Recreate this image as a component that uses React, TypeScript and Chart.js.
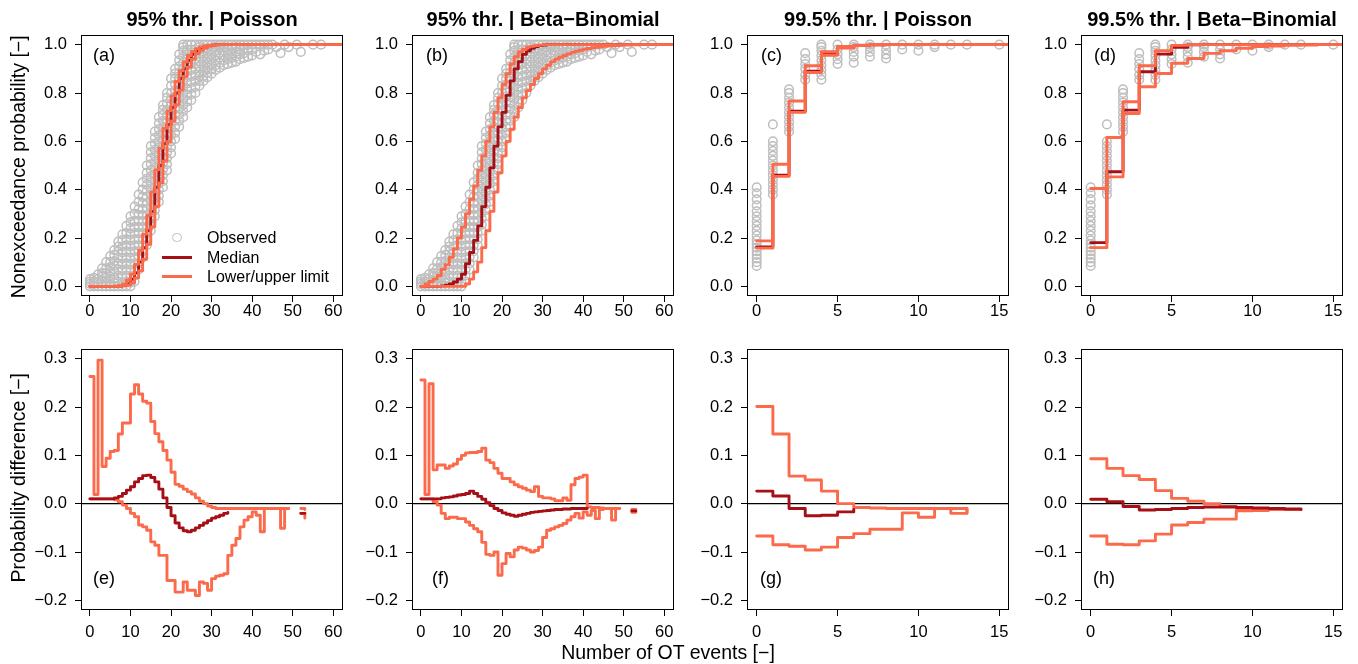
import React, { useEffect, useRef } from "react";
import { Chart, registerables } from "chart.js";

Chart.register(...registerables);

const FONT = "'Liberation Sans', Arial, Helvetica, sans-serif";
const DARK = "#A50F15";
const LIGHT = "#FB6A4A";
const GREY = "#BEBEBE";

// ---------- ticks & labels ----------
const probTicks = [0, 0.2, 0.4, 0.6, 0.8, 1];
const diffTicks = [-0.2, -0.1, 0, 0.1, 0.2, 0.3];
const countTicksWide = [0, 10, 20, 30, 40, 50, 60];
const countTicksNarrow = [0, 5, 10, 15];
const panelTitles = [
  "95% thr. | Poisson",
  "95% thr. | Beta\u2212Binomial",
  "99.5% thr. | Poisson",
  "99.5% thr. | Beta\u2212Binomial",
];
const topLetters = ["(a)", "(b)", "(c)", "(d)"];
const bottomLetters = ["(e)", "(f)", "(g)", "(h)"];
const legendLabels = ["Observed", "Median", "Lower/upper limit"];
const xAxisLabel = "Number of OT events [\u2212]";
const yTopLabel = "Nonexceedance probability [\u2212]";
const yBottomLabel = "Probability difference [\u2212]";

// ---------- observed empirical probabilities (index = number of events) ----------
const obs95: number[][] = [
  [0, 0.01, 0.02, 0.03],
  [0, 0.01, 0.02, 0.035],
  [0, 0.015, 0.03, 0.05],
  [0, 0.02, 0.04, 0.055, 0.075],
  [0, 0.015, 0.035, 0.055, 0.075, 0.1],
  [0, 0.02, 0.04, 0.06, 0.08, 0.1, 0.125],
  [0, 0.015, 0.035, 0.06, 0.085, 0.105, 0.13, 0.15],
  [0, 0.02, 0.045, 0.07, 0.095, 0.12, 0.145, 0.165, 0.185],
  [0, 0.015, 0.04, 0.065, 0.09, 0.115, 0.14, 0.165, 0.19, 0.215],
  [0, 0.02, 0.045, 0.07, 0.095, 0.12, 0.145, 0.17, 0.195, 0.22, 0.25],
  [0, 0.015, 0.04, 0.065, 0.09, 0.115, 0.14, 0.165, 0.19, 0.215, 0.24, 0.265, 0.29],
  [0.02, 0.045, 0.07, 0.095, 0.12, 0.145, 0.17, 0.195, 0.22, 0.245, 0.27, 0.3, 0.33],
  [0.07, 0.095, 0.12, 0.145, 0.17, 0.195, 0.22, 0.245, 0.27, 0.295, 0.32, 0.35, 0.38],
  [0.12, 0.145, 0.17, 0.195, 0.22, 0.245, 0.27, 0.295, 0.32, 0.345, 0.37, 0.4, 0.43],
  [0.17, 0.195, 0.22, 0.245, 0.27, 0.295, 0.32, 0.345, 0.37, 0.395, 0.42, 0.445, 0.47, 0.5],
  [0.23, 0.255, 0.28, 0.305, 0.33, 0.355, 0.38, 0.405, 0.43, 0.455, 0.48, 0.505, 0.53, 0.555, 0.58],
  [0.29, 0.315, 0.34, 0.365, 0.39, 0.415, 0.44, 0.465, 0.49, 0.515, 0.54, 0.565, 0.59, 0.615, 0.64],
  [0.35, 0.375, 0.4, 0.425, 0.45, 0.475, 0.5, 0.525, 0.55, 0.575, 0.6, 0.625, 0.65, 0.675, 0.7],
  [0.41, 0.435, 0.46, 0.485, 0.51, 0.535, 0.56, 0.585, 0.61, 0.635, 0.66, 0.685, 0.71, 0.73, 0.75],
  [0.48, 0.505, 0.53, 0.555, 0.58, 0.605, 0.63, 0.655, 0.68, 0.705, 0.73, 0.755, 0.78, 0.8],
  [0.55, 0.575, 0.6, 0.625, 0.65, 0.675, 0.7, 0.725, 0.75, 0.775, 0.8, 0.83, 0.86],
  [0.61, 0.635, 0.66, 0.685, 0.71, 0.735, 0.76, 0.785, 0.81, 0.835, 0.86, 0.88, 0.9],
  [0.66, 0.685, 0.71, 0.735, 0.76, 0.785, 0.81, 0.835, 0.86, 0.885, 0.91, 0.935, 0.96],
  [0.7, 0.725, 0.75, 0.775, 0.8, 0.825, 0.85, 0.875, 0.9, 0.925, 0.95, 0.975, 0.99, 1],
  [0.74, 0.765, 0.79, 0.815, 0.84, 0.865, 0.89, 0.915, 0.94, 0.96, 0.98, 1],
  [0.77, 0.795, 0.82, 0.845, 0.87, 0.895, 0.92, 0.94, 0.96, 0.98, 1],
  [0.8, 0.825, 0.85, 0.875, 0.9, 0.92, 0.94, 0.96, 0.98, 1],
  [0.83, 0.85, 0.87, 0.89, 0.91, 0.93, 0.95, 0.97, 0.99, 1],
  [0.85, 0.87, 0.89, 0.91, 0.93, 0.95, 0.97, 0.985, 1],
  [0.865, 0.885, 0.905, 0.925, 0.945, 0.965, 0.985, 1],
  [0.88, 0.9, 0.92, 0.94, 0.96, 0.98, 1],
  [0.895, 0.915, 0.935, 0.955, 0.975, 0.99, 1],
  [0.905, 0.925, 0.945, 0.965, 0.985, 1],
  [0.915, 0.935, 0.955, 0.975, 0.99, 1],
  [0.92, 0.94, 0.96, 0.98, 1],
  [0.925, 0.945, 0.965, 0.985, 1],
  [0.93, 0.95, 0.97, 0.99, 1],
  [0.94, 0.96, 0.98, 1],
  [0.945, 0.965, 0.985, 1],
  [0.95, 0.975, 1],
  [0.955, 0.98, 1],
  [0.97, 1],
  [0.96, 1],
  [0.975, 1],
  [0.98, 1],
  [1],
  [0.99],
  [0.965],
  [1],
  [0.99],
  [],
  [1],
  [0.97],
  [],
  [],
  [1],
  [],
  [1],
];

const obs995: number[][] = [
  [0.084, 0.1, 0.115, 0.13, 0.145, 0.16, 0.175, 0.19, 0.21, 0.23, 0.25, 0.27, 0.29, 0.31, 0.335, 0.36, 0.385, 0.41],
  [0.38, 0.4, 0.42, 0.44, 0.46, 0.48, 0.5, 0.52, 0.54, 0.56, 0.58, 0.6, 0.67],
  [0.64, 0.66, 0.68, 0.7, 0.72, 0.74, 0.76, 0.78, 0.8, 0.815],
  [0.855, 0.875, 0.9, 0.92, 0.94, 0.965],
  [0.855, 0.875, 0.895, 0.915, 0.935, 0.955, 0.975, 0.99, 1],
  [0.92, 0.94, 0.96, 0.98, 1],
  [0.925, 0.95, 0.97, 0.99, 1],
  [0.95, 0.97, 0.99, 1],
  [0.943, 0.96, 0.98, 1],
  [0.98, 1],
  [0.975, 1],
  [0.99, 1],
  [1],
  [1],
  [],
  [1],
];

// ---------- nonexceedance probability curves (index = number of events) ----------
const aMedian = [0, 0, 0, 0, 0, 0, 0, 0.001, 0.004, 0.01, 0.03, 0.055, 0.1, 0.16, 0.23, 0.31, 0.41, 0.5, 0.59, 0.67, 0.74, 0.8, 0.86, 0.9, 0.935, 0.96, 0.975, 0.985, 0.992, 0.996, 0.998, 1];
const aUpper = [0, 0, 0, 0, 0, 0, 0.001, 0.003, 0.009, 0.026, 0.05, 0.091, 0.148, 0.216, 0.294, 0.39, 0.482, 0.572, 0.654, 0.726, 0.788, 0.848, 0.892, 0.928, 0.955, 0.972, 0.983, 0.991, 0.995, 0.998, 0.999, 1];
const aLower = [0, 0, 0, 0, 0, 0, 0, 0, 0.002, 0.005, 0.014, 0.035, 0.064, 0.112, 0.174, 0.246, 0.33, 0.428, 0.518, 0.599, 0.684, 0.752, 0.812, 0.868, 0.907, 0.94, 0.963, 0.977, 0.986, 0.993, 0.997, 0.998, 1];

const bMedian = [0, 0, 0, 0, 0, 0.002, 0.005, 0.01, 0.018, 0.03, 0.05, 0.094, 0.14, 0.19, 0.25, 0.33, 0.41, 0.49, 0.58, 0.66, 0.72, 0.79, 0.85, 0.9, 0.93, 0.96, 0.975, 0.985, 0.992, 0.996, 0.998, 1];
const bUpper = [0, 0.01, 0.02, 0.03, 0.045, 0.07, 0.09, 0.12, 0.155, 0.2, 0.245, 0.3, 0.36, 0.415, 0.48, 0.54, 0.6, 0.66, 0.72, 0.78, 0.835, 0.88, 0.92, 0.95, 0.97, 0.98, 0.99, 0.993, 0.996, 0.998, 1];
const bLower = [0, 0, 0, 0, 0, 0, 0, 0, 0, 0, 0, 0.01, 0.03, 0.06, 0.1, 0.16, 0.23, 0.31, 0.39, 0.47, 0.54, 0.6, 0.65, 0.7, 0.74, 0.78, 0.81, 0.835, 0.86, 0.88, 0.9, 0.915, 0.93, 0.94, 0.948, 0.955, 0.962, 0.968, 0.973, 0.977, 0.981, 0.984, 0.987, 0.989, 0.991, 0.993, 0.994, 0.995, 0.996, 0.997, 0.998, 0.998, 0.999, 0.999, 1];

const cMedian = [0.163, 0.46, 0.725, 0.89, 0.96, 0.988, 0.997, 0.999, 1];
const cUpper = [0.188, 0.505, 0.767, 0.913, 0.971, 0.993, 0.998, 1];
const cLower = [0.158, 0.455, 0.72, 0.885, 0.956, 0.986, 0.996, 0.999, 1];

const dMedian = [0.181, 0.474, 0.729, 0.888, 0.961, 0.989, 0.999, 1];
const dUpper = [0.405, 0.616, 0.764, 0.913, 0.975, 0.997, 1];
const dLower = [0.16, 0.453, 0.715, 0.826, 0.881, 0.923, 0.943, 0.964, 0.975, 0.985, 0.992, 0.994, 0.997, 0.998, 1];

// ---------- probability differences (index = number of events, null = no value) ----------
const eUpper = [0.263, 0.019, 0.297, 0.077, 0.094, 0.108, 0.11, 0.144, 0.167, 0.167, 0.227, 0.246, 0.227, 0.212, 0.208, 0.17, 0.145, 0.128, 0.11, 0.09, 0.065, 0.04, 0.036, 0.03, 0.025, 0.02, 0.012, 0.005, 0, -0.005, -0.008, -0.01, -0.01, -0.01, -0.01, -0.01, -0.01, -0.01, -0.01, -0.01, -0.01, -0.01, -0.01, -0.01, -0.01, -0.01, -0.01, -0.01, -0.01, -0.01, null, null, -0.01, -0.012];
const eMedian = [0.01, 0.01, 0.01, 0.01, 0.01, 0.01, 0.012, 0.015, 0.021, 0.028, 0.035, 0.045, 0.052, 0.058, 0.059, 0.054, 0.045, 0.03, 0.012, -0.008, -0.025, -0.04, -0.05, -0.056, -0.058, -0.055, -0.05, -0.045, -0.04, -0.035, -0.03, -0.027, -0.024, -0.02, -0.018, null, null, null, null, null, null, null, null, null, null, null, null, null, null, null, null, null, -0.02, -0.02];
const eLower = [0.01, 0.01, 0.01, 0.01, 0.01, 0.01, 0.008, 0.004, -0.003, -0.01, -0.02, -0.027, -0.044, -0.048, -0.055, -0.079, -0.086, -0.107, -0.107, -0.159, -0.159, -0.183, -0.183, -0.162, -0.179, -0.179, -0.19, -0.162, -0.165, -0.179, -0.155, -0.15, -0.148, -0.145, -0.107, -0.086, -0.072, -0.048, -0.034, -0.027, -0.017, -0.024, -0.058, -0.01, -0.01, -0.01, -0.01, -0.051, -0.01, -0.01, null, null, -0.02, -0.03];

const fUpper = [0.256, 0.019, 0.248, 0.07, 0.08, 0.08, 0.073, 0.078, 0.082, 0.092, 0.1, 0.105, 0.106, 0.106, 0.108, 0.115, 0.09, 0.085, 0.073, 0.063, 0.052, 0.052, 0.045, 0.039, 0.035, 0.032, 0.028, 0.025, 0.035, 0.015, 0.012, 0.012, 0.01, 0.006, 0.006, 0.012, 0.007, 0.039, 0.052, 0.055, 0.059, -0.007, -0.008, -0.008, -0.009, -0.01, -0.01, -0.01, -0.01, -0.01, null, null, -0.012, -0.012];
const fMedian = [0.01, 0.01, 0.01, 0.01, 0.01, 0.012, 0.013, 0.014, 0.016, 0.018, 0.019, 0.021, 0.026, 0.021, 0.015, 0.009, 0.002, -0.004, -0.01, -0.014, -0.019, -0.022, -0.024, -0.026, -0.024, -0.022, -0.02, -0.018, -0.017, -0.016, -0.015, -0.014, -0.013, -0.012, -0.012, -0.011, -0.011, -0.01, -0.01, -0.01, -0.01, -0.01, null, null, null, null, null, null, null, null, null, null, -0.015, -0.015];
const fLower = [0.01, 0.01, 0.01, 0.004, -0.003, -0.02, -0.031, -0.028, -0.028, -0.031, -0.031, -0.038, -0.045, -0.052, -0.058, -0.08, -0.105, -0.107, -0.1, -0.148, -0.124, -0.103, -0.11, -0.096, -0.09, -0.092, -0.096, -0.1, -0.097, -0.09, -0.07, -0.055, -0.052, -0.048, -0.045, -0.041, -0.034, -0.027, -0.02, -0.03, -0.017, -0.024, -0.014, -0.031, -0.012, -0.01, -0.01, -0.034, -0.01, -0.01, null, null, -0.018, -0.018];

const gUpper = [0.201, 0.144, 0.057, 0.049, 0.026, 0, -0.008, -0.009, -0.01, -0.01, -0.01, -0.01, -0.01, -0.02];
const gMedian = [0.026, 0.016, -0.01, -0.025, -0.024, -0.017, -0.012];
const gLower = [-0.067, -0.085, -0.088, -0.096, -0.09, -0.07, -0.062, -0.053, -0.053, -0.019, -0.028, -0.01, -0.02, -0.01];

const hUpper = [0.093, 0.073, 0.058, 0.05, 0.027, 0.011, 0.005, 0, -0.006, -0.01, -0.01, -0.012, -0.012, -0.012];
const hMedian = [0.009, 0.004, -0.006, -0.013, -0.012, -0.01, -0.008, -0.007, -0.007, -0.008, -0.009, -0.01, -0.011, -0.012];
const hLower = [-0.067, -0.084, -0.085, -0.077, -0.063, -0.044, -0.039, -0.032, -0.032, -0.015, -0.014, -0.012, -0.012, -0.012];

// ---------- layout ----------
const BOX_LEFT = [81, 412, 747, 1081];
const BOX_TOP = [35, 349];
const BOX_W = 262;
const BOX_H = 261;
const PAD_L = 64;
const PAD_R = 14;
const PAD_T = 18;
const PAD_B = 40;
const X_LABEL_PAD = [1, 8];

const WIDE = { min: -2.2, max: 62.4, ticks: countTicksWide, tail: 64 };
const NARROW = { min: -0.6, max: 15.6, ticks: countTicksNarrow, tail: 16 };

function stepLine(ys: (number | null)[], color: string, order: number, tailX?: number) {
  const data: { x: number; y: number | null }[] = ys.map((y, i) => ({ x: i, y }));
  if (tailX !== undefined) data.push({ x: tailX, y: ys[ys.length - 1] });
  return {
    type: "line",
    data,
    borderColor: color,
    backgroundColor: color,
    borderWidth: 2.9,
    pointRadius: 0,
    pointHoverRadius: 0,
    stepped: true,
    fill: false,
    spanGaps: false,
    borderCapStyle: "round",
    borderJoinStyle: "round",
    order,
  };
}

function observedSet(cols: number[][]) {
  const data: { x: number; y: number }[] = [];
  cols.forEach((col, x) => col.forEach((y) => data.push({ x, y })));
  return {
    type: "line",
    data,
    showLine: false,
    borderColor: GREY,
    backgroundColor: "rgba(0,0,0,0)",
    pointRadius: 4.3,
    pointHoverRadius: 4.3,
    pointBorderWidth: 1.5,
    pointBorderColor: GREY,
    pointBackgroundColor: "rgba(0,0,0,0)",
    order: 3,
  };
}

function zeroLine(xMin: number, xMax: number) {
  return {
    type: "line",
    data: [
      { x: xMin, y: 0 },
      { x: xMax, y: 0 },
    ],
    borderColor: "#000",
    borderWidth: 1.2,
    pointRadius: 0,
    fill: false,
    order: 5,
  };
}

interface PanelCfg {
  col: number;
  row: number;
  xr: typeof WIDE;
  yMin: number;
  yMax: number;
  yTicks: number[];
  build: () => any[];
}

function topPanel(col: number, xr: typeof WIDE, obs: number[][], med: number[], low: number[], up: number[]): PanelCfg {
  return {
    col,
    row: 0,
    xr,
    yMin: -0.04,
    yMax: 1.04,
    yTicks: probTicks,
    build: () => [
      stepLine(up, LIGHT, 0, xr.tail),
      stepLine(low, LIGHT, 0, xr.tail),
      stepLine(med, DARK, 1, xr.tail),
      observedSet(obs),
    ],
  };
}

function bottomPanel(col: number, xr: typeof WIDE, med: (number | null)[], low: (number | null)[], up: (number | null)[]): PanelCfg {
  return {
    col,
    row: 1,
    xr,
    yMin: -0.22,
    yMax: 0.32,
    yTicks: diffTicks,
    build: () => [
      stepLine(med, DARK, 0),
      stepLine(low, LIGHT, 1),
      stepLine(up, LIGHT, 1),
      zeroLine(xr.min, xr.max),
    ],
  };
}

const panels: PanelCfg[] = [
  topPanel(0, WIDE, obs95, aMedian, aLower, aUpper),
  topPanel(1, WIDE, obs95, bMedian, bLower, bUpper),
  topPanel(2, NARROW, obs995, cMedian, cLower, cUpper),
  topPanel(3, NARROW, obs995, dMedian, dLower, dUpper),
  bottomPanel(0, WIDE, eMedian, eLower, eUpper),
  bottomPanel(1, WIDE, fMedian, fLower, fUpper),
  bottomPanel(2, NARROW, gMedian, gLower, gUpper),
  bottomPanel(3, NARROW, hMedian, hLower, hUpper),
];

function fmtProb(v: number) {
  const r = Math.round(v * 10) / 10;
  if (Math.abs(r) < 1e-9) return "0.0";
  return r < 0 ? "\u2212" + Math.abs(r).toFixed(1) : r.toFixed(1);
}

const boxPlugin = {
  id: "panelBox",
  afterDraw(chart: any) {
    const { ctx, chartArea: a } = chart;
    ctx.save();
    ctx.strokeStyle = "#000";
    ctx.lineWidth = 1;
    ctx.strokeRect(Math.round(a.left) + 0.5, Math.round(a.top) + 0.5, Math.round(a.right - a.left) - 1, Math.round(a.bottom - a.top) - 1);
    ctx.restore();
  },
};

const tickFont = { family: FONT, size: 16.5, lineHeight: 1 };

function Panel({ cfg }: { cfg: PanelCfg }) {
  const ref = useRef<HTMLCanvasElement | null>(null);
  const left = BOX_LEFT[cfg.col] - PAD_L;
  const top = BOX_TOP[cfg.row] - PAD_T;
  const width = BOX_W + PAD_L + PAD_R;
  const height = BOX_H + PAD_T + PAD_B;

  useEffect(() => {
    if (!ref.current) return;
    const chart = new Chart(ref.current, {
      type: "line",
      data: { datasets: cfg.build() as any },
      options: {
        responsive: false,
        maintainAspectRatio: false,
        animation: false,
        devicePixelRatio: 1,
        events: [],
        layout: { padding: { left: 0, top: PAD_T, right: PAD_R, bottom: 0 } },
        plugins: { legend: { display: false }, tooltip: { enabled: false }, title: { display: false } },
        scales: {
          x: {
            type: "linear",
            min: cfg.xr.min,
            max: cfg.xr.max,
            afterBuildTicks: (axis: any) => {
              axis.ticks = cfg.xr.ticks.map((v) => ({ value: v }));
            },
            afterFit: (axis: any) => {
              axis.height = PAD_B;
            },
            grid: { drawOnChartArea: false, drawTicks: true, tickLength: 6, color: "#000", lineWidth: 1 },
            border: { display: false },
            ticks: {
              color: "#000",
              font: tickFont,
              padding: X_LABEL_PAD[cfg.row],
              maxRotation: 0,
              minRotation: 0,
              autoSkip: false,
              callback: (v: any) => String(v),
            },
          },
          y: {
            type: "linear",
            min: cfg.yMin,
            max: cfg.yMax,
            afterBuildTicks: (axis: any) => {
              axis.ticks = cfg.yTicks.map((v) => ({ value: v }));
            },
            afterFit: (axis: any) => {
              axis.width = PAD_L;
            },
            grid: { drawOnChartArea: false, drawTicks: true, tickLength: 6, color: "#000", lineWidth: 1 },
            border: { display: false },
            ticks: {
              color: "#000",
              font: tickFont,
              padding: 8,
              autoSkip: false,
              callback: (v: any) => fmtProb(Number(v)),
            },
          },
        },
      },
      plugins: [boxPlugin],
    } as any);
    return () => chart.destroy();
  }, []);

  return (
    <canvas
      ref={ref}
      width={width}
      height={height}
      style={{ position: "absolute", left, top, width, height, display: "block" }}
    />
  );
}

function Txt({ left, top, size, bold, children, center }: any) {
  const style: React.CSSProperties = {
    position: "absolute",
    top,
    fontSize: size,
    lineHeight: size + "px",
    fontWeight: bold ? "bold" : "normal",
    whiteSpace: "nowrap",
    color: "#000",
  };
  if (center) {
    style.left = left - 300;
    style.width = 600;
    style.textAlign = "center";
  } else {
    style.left = left;
  }
  return <div style={style}>{children}</div>;
}

function RotLabel({ cx, cy, size, children }: any) {
  return (
    <div
      style={{
        position: "absolute",
        left: cx - 200,
        top: cy - size / 2,
        width: 400,
        height: size,
        lineHeight: size + "px",
        fontSize: size,
        textAlign: "center",
        whiteSpace: "nowrap",
        transform: "rotate(-90deg)",
        transformOrigin: "50% 50%",
        color: "#000",
      }}
    >
      {children}
    </div>
  );
}

const topLetterLeft = [93, 426, 761, 1094];
const bottomLetterLeft = [93, 432, 760, 1093];

export default function App() {
  return (
    <div
      style={{
        position: "absolute",
        left: 0,
        top: 0,
        width: 1358,
        height: 664,
        background: "#fff",
        fontFamily: FONT,
        overflow: "hidden",
      }}
    >
      {panels.map((p, i) => (
        <Panel key={i} cfg={p} />
      ))}

      {panelTitles.map((t, i) => (
        <Txt key={"t" + i} left={BOX_LEFT[i] + BOX_W / 2} top={9.4} size={20} bold center>
          {t}
        </Txt>
      ))}

      {topLetters.map((t, i) => (
        <Txt key={"lt" + i} left={topLetterLeft[i]} top={46} size={18}>
          {t}
        </Txt>
      ))}
      {bottomLetters.map((t, i) => (
        <Txt key={"lb" + i} left={bottomLetterLeft[i]} top={569} size={18}>
          {t}
        </Txt>
      ))}

      {/* legend in panel (a) */}
      <div
        style={{
          position: "absolute",
          left: 177 - 4.8,
          top: 237.5 - 4.8,
          width: 9.6,
          height: 9.6,
          borderRadius: "50%",
          border: "1.5px solid " + GREY,
          boxSizing: "border-box",
        }}
      />
      <div style={{ position: "absolute", left: 162, top: 257.8 - 1.45, width: 30, height: 2.9, background: DARK }} />
      <div style={{ position: "absolute", left: 162, top: 276.7 - 1.45, width: 30, height: 2.9, background: LIGHT }} />
      <Txt left={207} top={229.8} size={16}>
        {legendLabels[0]}
      </Txt>
      <Txt left={207} top={249.6} size={16}>
        {legendLabels[1]}
      </Txt>
      <Txt left={207} top={269} size={16}>
        {legendLabels[2]}
      </Txt>

      <Txt left={668} top={642.5} size={19.5} center>
        {xAxisLabel}
      </Txt>
      <RotLabel cx={19} cy={167} size={19.5}>
        {yTopLabel}
      </RotLabel>
      <RotLabel cx={19} cy={478} size={19.5}>
        {yBottomLabel}
      </RotLabel>
    </div>
  );
}
